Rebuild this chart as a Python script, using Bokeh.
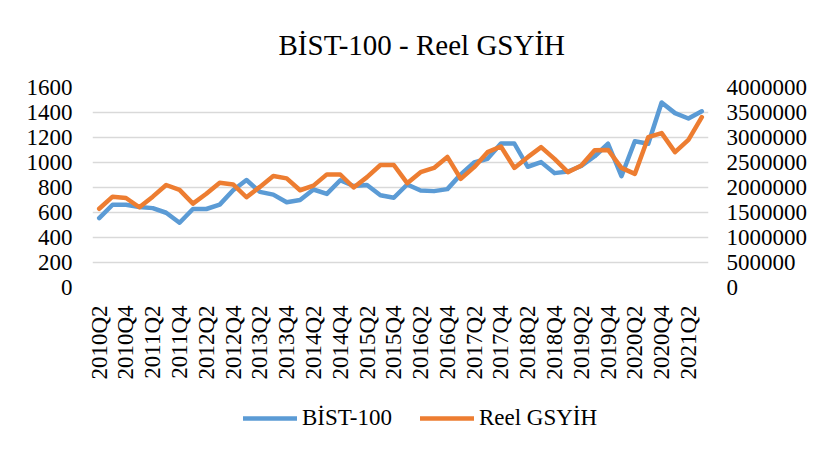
import math
from bokeh.plotting import figure
from bokeh.layouts import column
from bokeh.models import (Range1d, LinearAxis, FixedTicker, Legend, LegendItem,
                          BasicTickFormatter, ColumnDataSource)
from bokeh.embed import file_html
from bokeh.resources import INLINE

quarters = [
    "2010Q2", "2010Q3", "2010Q4", "2011Q1", "2011Q2", "2011Q3", "2011Q4",
    "2012Q1", "2012Q2", "2012Q3", "2012Q4", "2013Q1", "2013Q2", "2013Q3",
    "2013Q4", "2014Q1", "2014Q2", "2014Q3", "2014Q4", "2015Q1", "2015Q2",
    "2015Q3", "2015Q4", "2016Q1", "2016Q2", "2016Q3", "2016Q4", "2017Q1",
    "2017Q2", "2017Q3", "2017Q4", "2018Q1", "2018Q2", "2018Q3", "2018Q4",
    "2019Q1", "2019Q2", "2019Q3", "2019Q4", "2020Q1", "2020Q2", "2020Q3",
    "2020Q4", "2021Q1", "2021Q2", "2021Q3",
]

bist100 = [
    555, 662, 662, 644, 635, 598, 518, 628, 628, 663, 778, 860, 765, 743,
    682, 700, 784, 749, 858, 812, 820, 738, 718, 824, 776, 771, 787, 905,
    1000, 1030, 1152, 1152, 966, 1003, 915, 928, 972, 1050, 1150, 890,
    1170, 1150, 1480, 1395, 1352, 1410,
]

reel_gsyih = [
    1575000, 1817000, 1790000, 1605000, 1817000, 2050000, 1952000, 1677000,
    1875000, 2095000, 2062000, 1805000, 2012000, 2230000, 2182000, 1945000,
    2037000, 2262000, 2260000, 2000000, 2207000, 2450000, 2450000, 2087000,
    2307000, 2392000, 2612000, 2172000, 2407000, 2707000, 2820000, 2392000,
    2607000, 2807000, 2572000, 2307000, 2440000, 2745000, 2752000, 2392000,
    2272000, 3007000, 3087000, 2707000, 2952000, 3407000,
]

left_ticks = [0, 200, 400, 600, 800, 1000, 1200, 1400, 1600]
right_ticks = [0, 500000, 1000000, 1500000, 2000000, 2500000, 3000000,
               3500000, 4000000]

title_text = "BİST-100 - Reel GSYİH"
series_names = ["BİST-100", "Reel GSYİH"]

FONT = "Liberation Serif"
BLUE = "#5B9BD5"
ORANGE = "#ED7D31"
LINE_W = 4.5

idx = list(range(len(quarters)))
src = ColumnDataSource(dict(x=idx, q=quarters, bist=bist100, gdp=reel_gsyih))

# ---------------- main chart ----------------
p = figure(width=810, height=400, output_backend="svg", toolbar_location=None,
           x_range=Range1d(-0.5, len(quarters) - 0.5),
           y_range=Range1d(left_ticks[0], left_ticks[-1]),
           min_border_left=92, min_border_right=97,
           min_border_top=87, min_border_bottom=113)
p.extra_y_ranges = {"gdp": Range1d(right_ticks[0], right_ticks[-1])}
p.outline_line_color = None
p.background_fill_color = "white"
p.border_fill_color = "white"

p.title.text = title_text
p.title.align = "left"
p.title.offset = 186
p.title.standoff = 53
p.title.text_font = FONT
p.title.text_font_size = "29px"
p.title.text_font_style = "normal"
p.title.text_color = "#000000"

p.line("x", "bist", source=src, line_color=BLUE, line_width=LINE_W,
       line_join="round", line_cap="round")
p.line("x", "gdp", source=src, y_range_name="gdp", line_color=ORANGE,
       line_width=LINE_W, line_join="round", line_cap="round")

right_axis = LinearAxis(y_range_name="gdp")
p.add_layout(right_axis, "right")

p.xgrid.grid_line_color = None
p.ygrid.grid_line_color = "#d9d9d9"
p.ygrid.grid_line_width = 1.5
p.ygrid.ticker = FixedTicker(ticks=left_ticks)

p.yaxis[0].ticker = FixedTicker(ticks=left_ticks)
right_axis.ticker = FixedTicker(ticks=right_ticks)
right_axis.formatter = BasicTickFormatter(use_scientific=False)

p.xaxis.ticker = FixedTicker(ticks=idx[::2])
p.xaxis.major_label_overrides = {i: quarters[i] for i in idx[::2]}
p.xaxis.major_label_orientation = math.pi / 2

for ax in [p.xaxis[0], p.yaxis[0], right_axis]:
    ax.axis_line_color = None
    ax.major_tick_line_color = None
    ax.minor_tick_line_color = None
    ax.major_tick_in = 0
    ax.major_tick_out = 0
    ax.minor_tick_in = 0
    ax.minor_tick_out = 0
    ax.major_label_text_font = FONT
    ax.major_label_text_font_size = "23px"
    ax.major_label_text_color = "#000000"

p.yaxis[0].major_label_standoff = 20
right_axis.major_label_standoff = 18
p.xaxis.major_label_standoff = 18

# ---------------- legend strip (its frame aligns with the chart's) ----------------
lg = figure(width=810, height=34, output_backend="svg", toolbar_location=None,
            x_range=Range1d(1000, 1001), y_range=Range1d(1000, 1001),
            min_border_left=0, min_border_right=0, min_border_top=0,
            min_border_bottom=0)
lg.axis.visible = False
lg.grid.visible = False
lg.outline_line_color = None
lg.border_fill_color = "white"
lg.background_fill_color = "white"
# legend keys: same series, but outside this strip's ranges, so only the keys show
k1 = lg.line("x", "bist", source=src, line_color=BLUE, line_width=LINE_W,
             line_cap="round")
k2 = lg.line("x", "bist", source=src, line_color=ORANGE, line_width=LINE_W,
             line_cap="round")

legend = Legend(items=[LegendItem(label=series_names[0], renderers=[k1]),
                       LegendItem(label=series_names[1], renderers=[k2])],
                orientation="horizontal", location=(151, 3),
                border_line_color=None, background_fill_alpha=0,
                label_text_font=FONT, label_text_font_size="23px",
                label_text_color="#000000",
                glyph_width=54, glyph_height=20, spacing=28,
                label_standoff=5, margin=0, padding=0)
lg.add_layout(legend, "center")

layout = column(p, lg, spacing=0)

open("out.html", "w").write(file_html(layout, INLINE))
